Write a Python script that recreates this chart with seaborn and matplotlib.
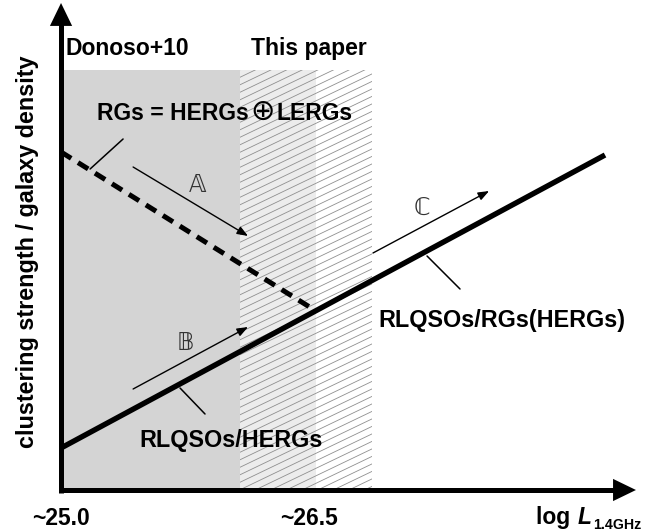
import numpy as np
import matplotlib
matplotlib.use("Agg")
import matplotlib.pyplot as plt
from matplotlib.patches import Rectangle
from matplotlib.transforms import IdentityTransform
import seaborn as sns

# ---------------- data (schematic, x = log L1.4GHz, y = arbitrary clustering units) ----
donoso_range = [25.0, 26.05]
light_range = [26.05, 26.5]
hatch_range = [26.05, 26.83]
region_top = 4.2

solid_x = [25.0, 28.2]
solid_y = [0.42, 3.35]
dashed_x = [25.0, 26.5]
dashed_y = [3.38, 1.79]

arrow_labels = ["\U0001D538", "\U0001D539", "\u2102"]
arrow_start_x = [25.424, 25.424, 26.835]
arrow_start_y = [3.23, 1.01, 2.37]
arrow_end_x = [26.10, 26.10, 27.518]
arrow_end_y = [2.54, 1.63, 2.99]
arrow_label_x = [25.806, 25.729, 27.124]
arrow_label_y = [3.05, 1.47, 2.82]

leader_x0 = [25.171, 25.70, 27.153]
leader_y0 = [3.21, 1.02, 2.34]
leader_x1 = [25.365, 25.847, 27.347]
leader_y1 = [3.51, 0.76, 2.01]

tick_values = [25.0, 26.46]
tick_labels = ["~25.0", "~26.5"]

header_labels = ["Donoso+10", "This paper"]
header_x = [25.029, 26.118]
header_y = 4.35

# ---------------- figure ----------------
sns.set_theme(style="white")
plt.rcParams["font.family"] = ["Liberation Sans", "DejaVu Sans"]
plt.rcParams["mathtext.fontset"] = "dejavusans"

fig = plt.figure(figsize=(6.55, 5.31), dpi=100)
ax = fig.add_axes([0, 0, 1, 1])
ax.set_xlim(24.641, 28.494)
ax.set_ylim(-0.41, 4.90)
ax.axis("off")

# shaded regions
ax.add_patch(Rectangle((donoso_range[0], 0), donoso_range[1] - donoso_range[0], region_top,
                       facecolor="#d4d4d4", edgecolor="none", zorder=1))
ax.add_patch(Rectangle((light_range[0], 0), light_range[1] - light_range[0], region_top,
                       facecolor="#ececec", edgecolor="none", zorder=1))
clip = Rectangle((hatch_range[0], 0), hatch_range[1] - hatch_range[0], region_top,
                 facecolor="none", edgecolor="none")
ax.add_patch(clip)
hslope = 0.48 * 170 / 100
hx = np.array(hatch_range)
for c in np.arange(-1.2, region_top + 0.1, 0.075):
    ln, = ax.plot(hx, c + hslope * (hx - hatch_range[0]), color="#8f8f8f", lw=0.6, zorder=2)
    ln.set_clip_path(clip)

# main relations
sns.lineplot(x=solid_x, y=solid_y, ax=ax, color="black", linewidth=3.9,
             sort=False, estimator=None, zorder=5)
ax.lines[-1].set_solid_capstyle("butt")
sns.lineplot(x=dashed_x, y=dashed_y, ax=ax, color="black", linewidth=3.6,
             sort=False, estimator=None, zorder=5)
ax.lines[-1].set_dashes([2.4, 1.6])

# small arrows and labels
for xs, ys, xe, ye, lab, lx, ly in zip(arrow_start_x, arrow_start_y, arrow_end_x, arrow_end_y,
                                       arrow_labels, arrow_label_x, arrow_label_y):
    ax.annotate("", xy=(xe, ye), xytext=(xs, ys),
                arrowprops=dict(arrowstyle="-|>,head_length=0.65,head_width=0.25",
                                mutation_scale=10, lw=1.0, color="black",
                                shrinkA=0, shrinkB=0), zorder=6)
    ax.text(lx, ly, lab, fontsize=17, ha="center", va="center", color="#333333",
            family=["DejaVu Sans"], zorder=6)

# leader lines
for a, b, c, d in zip(leader_x0, leader_y0, leader_x1, leader_y1):
    ax.plot([a, c], [b, d], color="black", lw=1.1, zorder=6)

# axes arrows
ax_lw = 3.6
ax.plot([25.0, 25.0], [-0.025, 4.87 - 0.2], color="black", lw=ax_lw, solid_capstyle="butt", zorder=8)
ax.annotate("", xy=(25.0, 4.87), xytext=(25.0, 4.0),
            arrowprops=dict(arrowstyle="-|>,head_length=1.65,head_width=0.8",
                            mutation_scale=10, lw=0, color="black", shrinkA=0, shrinkB=0), zorder=8)
ax.plot([25.0 - 2.5 / 170, 28.382 - 0.13], [0, 0], color="black", lw=ax_lw, solid_capstyle="butt", zorder=8)
ax.annotate("", xy=(28.382, 0), xytext=(27.5, 0),
            arrowprops=dict(arrowstyle="-|>,head_length=1.65,head_width=0.8",
                            mutation_scale=10, lw=0, color="black", shrinkA=0, shrinkB=0), zorder=8)

# texts
bold = dict(fontweight="bold", color="black")
for lab, x in zip(header_labels, header_x):
    ax.text(x, header_y, lab, fontsize=16.5, ha="left", va="baseline", **bold)
ax.text(27.594, 1.63, "RLQSOs/RGs(HERGs)", fontsize=16.8, ha="center", va="baseline", **bold)
ax.text(26.0, 0.43, "RLQSOs/HERGs", fontsize=16.8, ha="center", va="baseline", **bold)
for v, lab in zip(tick_values, tick_labels):
    ax.text(v, -0.35, lab, fontsize=16.5, ha="center", va="baseline", **bold)
ax.text(24.803, 2.38, "clustering strength / galaxy density", fontsize=16.8, rotation=90,
        ha="center", va="center", **bold)

renderer = fig.canvas.get_renderer()
H = 531
ID = IdentityTransform()

# "RGs = HERGs (+) LERGs" with a larger, thin circled plus
r1 = ax.text(97, H - 120, "RGs = HERGs", fontsize=16.5, ha="left", va="baseline",
             transform=ID, **bold)
rx = r1.get_window_extent(renderer).x1
r2 = ax.text(rx + 2, H - 120, "\u2295", fontsize=21, ha="left", va="baseline",
             family=["DejaVu Sans"], color="black", transform=ID)
rx2 = r2.get_window_extent(renderer).x1
ax.text(rx2 + 1, H - 120, "LERGs", fontsize=16.5, ha="left", va="baseline",
        transform=ID, **bold)

# x-axis label: log L_1.4GHz built from pieces
t3 = ax.text(641, H - 529, "1.4GHz", fontsize=10.2, ha="right", va="baseline",
             transform=ID, **bold)
x3 = t3.get_window_extent(renderer).x0
t2 = ax.text(x3 - 1, H - 524, "L", fontsize=16.5, ha="right", va="baseline", style="italic",
             transform=ID, **bold)
x2 = t2.get_window_extent(renderer).x0
ax.text(x2 - 1, H - 524, "log ", fontsize=16.5, ha="right", va="baseline",
        transform=ID, **bold)

fig.savefig("out.png", dpi=100)
